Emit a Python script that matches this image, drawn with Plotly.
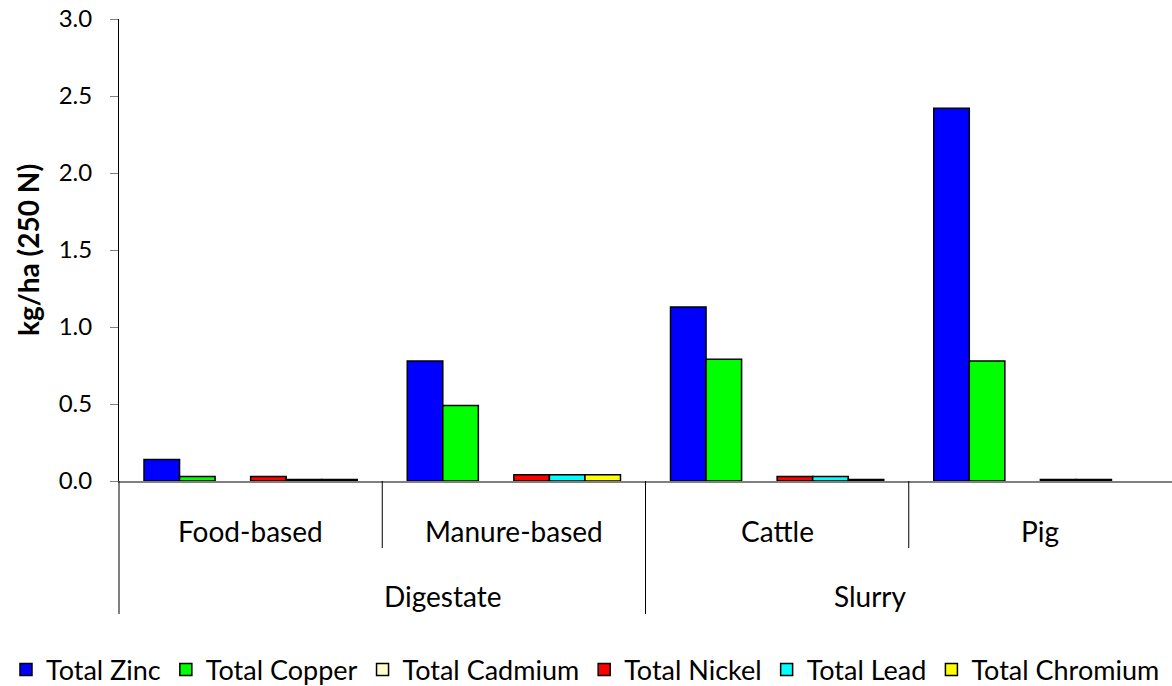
import plotly.graph_objects as go

groups = ["Digestate", "Slurry"]
categories = ["Food-based", "Manure-based", "Cattle", "Pig"]
group_of = ["Digestate", "Digestate", "Slurry", "Slurry"]

series_names = ["Total Zinc", "Total Copper", "Total Cadmium", "Total Nickel", "Total Lead", "Total Chromium"]
zinc = [0.14, 0.78, 1.13, 2.42]
copper = [0.03, 0.49, 0.79, 0.78]
cadmium = [None, None, None, None]
nickel = [0.03, 0.04, 0.03, 0.01]
lead = [0.01, 0.04, 0.03, 0.01]
chromium = [0.01, 0.04, 0.01, None]
colors = ["#0000FF", "#00FF00", "#FFFFCC", "#FF0000", "#00FFFF", "#FFFF00"]

y_ticks = [0, 0.5, 1.0, 1.5, 2.0, 2.5, 3.0]
y_ticklabels = ["0.0", "0.5", "1.0", "1.5", "2.0", "2.5", "3.0"]

font_main = "Lato"

fig = go.Figure()
for name, vals, col in zip(series_names, [zinc, copper, cadmium, nickel, lead, chromium], colors):
    fig.add_trace(go.Bar(
        x=categories, y=vals, name=name,
        marker=dict(color=col, line=dict(color="black", width=1.5)),
    ))

W, H = 1172, 686
ml, mr, mt, mb = 119, 0, 19, 205
ph = H - mt - mb
pw = W - ml - mr

def py(px_below):
    return -px_below / ph

annotations = []
for c in categories:
    annotations.append(dict(x=c, xref="x", y=py(50), yref="paper", text=c,
                            showarrow=False, yanchor="middle",
                            font=dict(family=font_main, size=28, color="black")))
n = len(categories)
for g in groups:
    idx = [i for i, gg in enumerate(group_of) if gg == g]
    xc = (min(idx) + max(idx) + 1) / 2 / n
    annotations.append(dict(x=xc, xref="paper", y=py(115), yref="paper", text=g,
                            showarrow=False, yanchor="middle",
                            font=dict(family=font_main, size=28, color="black")))
annotations.append(dict(x=-(119 - 28) / pw, xref="paper", y=0.5, yref="paper",
                        text="<b>kg/ha (250 N)</b>", textangle=-90, showarrow=False,
                        xanchor="center", yanchor="middle",
                        font=dict(family=font_main, size=28, color="black")))

shapes = []
for i in range(n):
    xp = i / n
    long = (i == 0) or (group_of[i] != group_of[i - 1])
    shapes.append(dict(type="line", xref="paper", yref="paper", x0=xp, x1=xp,
                       y0=0, y1=py(133 if long else 67),
                       line=dict(color="black", width=1)))

fig.update_layout(
    width=W, height=H,
    margin=dict(l=ml, r=mr, t=mt, b=mb, autoexpand=False),
    paper_bgcolor="white", plot_bgcolor="white",
    barmode="group", bargap=0.19, bargroupgap=0,
    font=dict(family=font_main, color="black"),
    xaxis=dict(showticklabels=False, showline=True, linecolor="#808080", linewidth=1.5,
               ticks="", showgrid=False, zeroline=False, range=[-0.5, 3.5]),
    yaxis=dict(range=[0, 3.0], tickvals=y_ticks, ticktext=y_ticklabels,
               showline=True, linecolor="black", linewidth=1, ticks="outside",
               ticklen=8, tickcolor="#808080", showgrid=False, zeroline=False,
               ticklabelstandoff=13, ticklabeloverflow="allow",
               tickfont=dict(family=font_main, size=24, color="black")),
    legend=dict(orientation="h", xref="paper", yref="paper",
                x=(6 - 119) / pw, xanchor="left",
                y=py(670 - 481), yanchor="middle", traceorder="normal",
                font=dict(family=font_main, size=27, color="black"),
                itemwidth=30, tracegroupgap=0, borderwidth=0),
    annotations=annotations, shapes=shapes,
)

fig.write_html("out.html", config={"displayModeBar": False},
               post_script="document.body.style.margin='0';")
